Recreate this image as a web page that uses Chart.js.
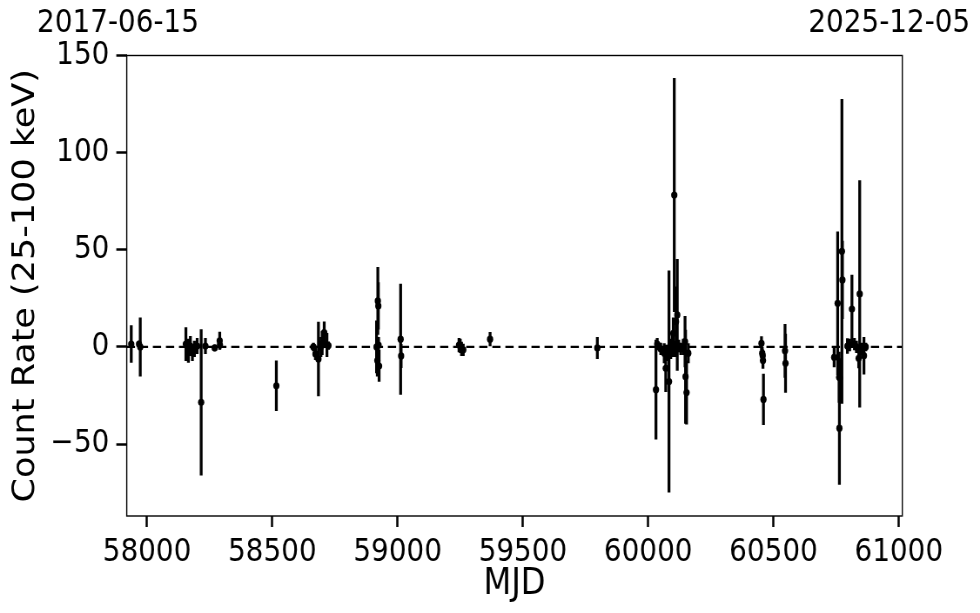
<!DOCTYPE html>
<html>
<head>
<meta charset="utf-8">
<script src="https://cdn.jsdelivr.net/npm/chart.js@4.4.1/dist/chart.umd.min.js"></script>
<style>
  html, body { margin: 0; padding: 0; background: #fff; overflow: hidden; }
  /* the reference figure is horizontally squeezed, so draw wide and scale down */
  #wrap { width: 1126px; height: 613px; transform: scaleX(0.87034); transform-origin: 0 0; }
</style>
</head>
<body>
<div id="wrap"><canvas id="lc"></canvas></div>
<script>
// --------------------------------------------------------------------
// Data
// --------------------------------------------------------------------
const mjd = [
    57937, 57968, 57973,
    58155, 58165, 58173, 58181, 58189, 58200, 58216, 58233, 58270, 58290, 58291,
    58516,
    58664, 58672, 58684, 58694, 58699, 58707, 58718, 58724,
    58916, 58919, 58921, 58923, 58924, 58926,
    59012, 59014,
    59245, 59250, 59255, 59262, 59369,
    59797,
    60031, 60036, 60050, 60064, 60070, 60078, 60083, 60090, 60096, 60100, 60104,
    60107, 60111, 60116, 60122, 60130, 60140, 60147, 60149, 60153, 60160,
    60452, 60455, 60457, 60458, 60460, 60546, 60548,
    60742, 60756, 60762, 60763, 60765, 60773, 60775, 60795, 60804, 60813, 60823,
    60831, 60840, 60844, 60852, 60861, 60868
];
const rate = [
    1.5, 1.5, 0,
    1.5, -2, 0.5, -3, -1, 0.5, -28.5, 0.5, -0.5, 3.2, 1.0,
    -20,
    0, -3.6, -6.2, 0, 2, 7.4, 1, 0.7,
    0, -7, 23.7, 21.1, 1, -9.8,
    4, -4.6,
    1, 0.5, -1, -1.5, 4,
    -0.5,
    -22, 1.5, -1, -3.2, -11, -3, -17.8, -1, 1, 7, 78.2,
    -1, 13, 16.5, 0.5, -1, 0, 2.7, -15.3, -23.5, -3.2,
    1.9, -3.2, -4.5, -7, -27, -2, -8.4,
    -5.3, 22.5, -15.6, -41.8, -16, 49.2, 34.5, 0.5, 1, 19.5, 1.5,
    0, -5.8, 27.3, -1, -4.5, 0
];
const rateErr = [
    9.5, 1.5, 15,
    8.5, 6, 5, 4, 4, 4, 37.5, 4, 1.5, 4.5, 2,
    12.8,
    2, 3, 19, 5, 6, 5.5, 6, 2,
    13.4, 8, 17.3, 12, 4, 8,
    28.4, 6,
    3.5, 3.5, 3.5, 3, 3.5,
    5.5,
    25.5, 3, 3, 5, 12, 4, 57, 5, 6, 8, 60,
    4, 18, 28.6, 3, 3, 4, 13, 24, 16.3, 5,
    3.4, 3, 3, 4, 13, 13.7, 15,
    5, 36.8, 13, 29, 10, 78.3, 20, 3.8, 3, 17.5, 3,
    3, 5, 58.3, 3, 9.5, 2
];

const xRange = [57919, 61014];
const yRange = [-87, 150];
const xTicks = [58000, 58500, 59000, 59500, 60000, 60500, 61000];
const yTicks = [-50, 0, 50, 100, 150];
const dateLabels = ['2017-06-15', '2025-12-05'];

// --------------------------------------------------------------------
// Plugins: axes frame and the start / end dates above the plot
// --------------------------------------------------------------------
const framePlugin = {
    id: 'frame',
    afterDatasetsDraw(chart) {
        const { ctx, chartArea: a } = chart;
        ctx.save();
        ctx.strokeStyle = '#000';
        ctx.lineWidth = 1.4;
        ctx.strokeRect(a.left, a.top, a.right - a.left, a.bottom - a.top);
        ctx.restore();
    }
};

const datesPlugin = {
    id: 'dates',
    afterDraw(chart) {
        const { ctx } = chart;
        const x = chart.scales.x;
        ctx.save();
        ctx.fillStyle = '#000';
        ctx.font = '32px "DejaVu Sans"';
        ctx.textAlign = 'center';
        ctx.textBaseline = 'alphabetic';
        ctx.fillText(dateLabels[0], x.getPixelForValue(xRange[0]) - 10, 32);
        ctx.fillText(dateLabels[1], x.getPixelForValue(xRange[1]) - 15, 32);
        ctx.restore();
    }
};

// --------------------------------------------------------------------
// Chart
// --------------------------------------------------------------------
const points = mjd.map((m, i) => ({ x: m, y: rate[i] }));
const errBars = mjd.map((m, i) => ({ x: m, y: [rate[i] - rateErr[i], rate[i] + rateErr[i]] }));

const tickFont = { family: '"DejaVu Sans"', size: 32 };

new Chart(document.getElementById('lc'), {
    type: 'bar',
    data: {
        datasets: [
            {
                type: 'scatter',
                data: points,
                backgroundColor: '#000',
                borderWidth: 0,
                pointRadius: 3.6,
                order: 1
            },
            {
                type: 'bar',
                data: errBars,
                backgroundColor: '#000',
                borderWidth: 0,
                barThickness: 2.6,
                order: 2
            },
            {
                type: 'line',
                data: [{ x: xRange[0], y: 0 }, { x: xRange[1], y: 0 }],
                borderColor: '#000',
                borderWidth: 2.2,
                borderDash: [9.5, 5.5],
                pointRadius: 0,
                order: 3
            }
        ]
    },
    options: {
        responsive: true,
        maintainAspectRatio: false,
        animation: false,
        events: [],
        layout: { padding: { top: 55.5, right: 89.3, left: 0, bottom: 0 } },
        plugins: { legend: { display: false }, tooltip: { enabled: false } },
        scales: {
            x: {
                type: 'linear',
                min: xRange[0],
                max: xRange[1],
                offset: false,
                afterBuildTicks: s => { s.ticks = xTicks.map(v => ({ value: v })); },
                afterFit: s => { s.height = 97; },
                grid: { offset: false, drawOnChartArea: false, tickLength: 11, tickWidth: 2.5, tickColor: '#000' },
                border: { display: false },
                ticks: { color: '#000', font: tickFont, padding: 6, maxRotation: 0, autoSkip: false,
                         callback: v => String(v) },
                title: { display: true, text: 'MJD', color: '#000',
                         font: { family: '"DejaVu Sans"', size: 37 }, padding: { top: 0, bottom: 6 } }
            },
            y: {
                min: yRange[0],
                max: yRange[1],
                afterBuildTicks: s => { s.ticks = yTicks.map(v => ({ value: v })); },
                afterFit: s => { s.width = 145.6; },
                grid: { drawOnChartArea: false, tickLength: 12, tickWidth: 2.5, tickColor: '#000' },
                border: { display: false },
                ticks: { color: '#000', font: tickFont, padding: 8,
                         callback: v => (v < 0 ? '\u2212' + Math.abs(v) : String(v)) },
                title: { display: true, text: 'Count Rate (25-100 keV)', color: '#000',
                         font: { family: '"DejaVu Sans"', size: 35 }, padding: { top: 9, bottom: 0 } }
            }
        }
    },
    plugins: [framePlugin, datesPlugin]
});
</script>
</body>
</html>
